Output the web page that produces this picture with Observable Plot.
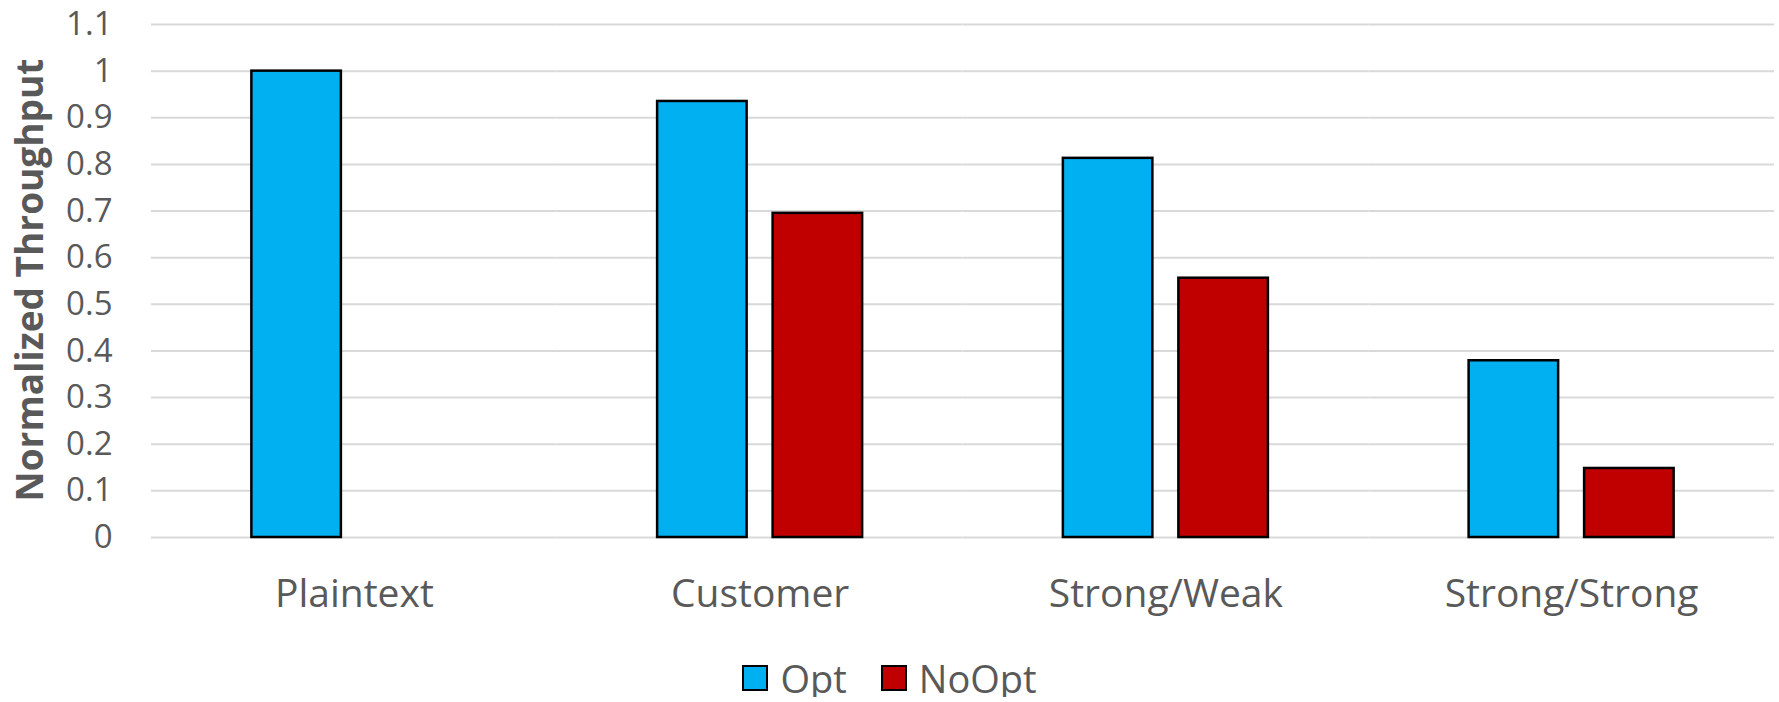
<!DOCTYPE html>
<html><head><meta charset="utf-8">
<script src="https://cdn.jsdelivr.net/npm/d3@7"></script>
<script src="https://cdn.jsdelivr.net/npm/@observablehq/plot@0.6"></script>
<style>
body{margin:0;background:#fff;font-family:"Open Sans",sans-serif;}
#legend{display:flex;justify-content:center;align-items:center;height:38px;padding-top:29px;font-size:38px;color:#595959;line-height:38px}
.item{display:flex;align-items:center;margin:0 17px}
.sw{width:26px;height:26px;box-sizing:border-box;border:2.5px solid #000;margin-right:12px}
</style></head><body><div id="chart"></div><div id="legend"></div>
<script>
const categories = ["Plaintext", "Customer", "Strong/Weak", "Strong/Strong"];
const series = ["Opt", "NoOpt"];
const optValues = [1.0, 0.935, 0.813, 0.379];
const noOptValues = [null, 0.695, 0.556, 0.148];
const yTicks = [0, 0.1, 0.2, 0.3, 0.4, 0.5, 0.6, 0.7, 0.8, 0.9, 1, 1.1];
const colors = ["#00B0F0", "#C00000"];
const yTitle = "Normalized Throughput";

const data = [];
categories.forEach((c, i) => {
  if (optValues[i] != null) data.push({category: c, series: "Opt", value: optValues[i]});
  if (noOptValues[i] != null) data.push({category: c, series: "NoOpt", value: noOptValues[i]});
});

const chart = Plot.plot({
  width: 1779, height: 630,
  marginTop: 24, marginBottom: 93, marginLeft: 151, marginRight: 5,
  style: {fontFamily: "Open Sans", color: "#595959", background: "#fff"},
  fx: {domain: categories, paddingInner: 0, paddingOuter: 0, round: false, label: null},
  x: {domain: series, paddingInner: 0.225, paddingOuter: 0.869, round: false, axis: null},
  y: {domain: [0, 1.1], label: null},
  color: {domain: series, range: colors},
  marks: [
    Plot.gridY(yTicks, {stroke: "#d9d9d9", strokeOpacity: 1, strokeWidth: 2}),
    Plot.barY(data, {fx: "category", x: "series", y: "value", fill: "series", stroke: "#000", strokeWidth: 2.5}),
    Plot.axisY(yTicks, {tickSize: 0, tickPadding: 39, fontSize: 33, tickFormat: d => String(d), label: null}),
    Plot.axisFx({anchor: "bottom", tickSize: 0, tickPadding: 42, fontSize: 39, label: null})
  ]
});

d3.select(chart).append("text")
  .attr("transform", "translate(43,280) rotate(-90)")
  .attr("text-anchor", "middle")
  .attr("font-weight", "bold")
  .attr("font-size", 37)
  .attr("fill", "#595959")
  .text(yTitle);

document.getElementById("chart").appendChild(chart);

const legend = d3.select("#legend");
series.forEach((s, i) => {
  const it = legend.append("div").attr("class", "item");
  it.append("div").attr("class", "sw").style("background", colors[i]);
  it.append("span").text(s);
});
</script></body></html>
